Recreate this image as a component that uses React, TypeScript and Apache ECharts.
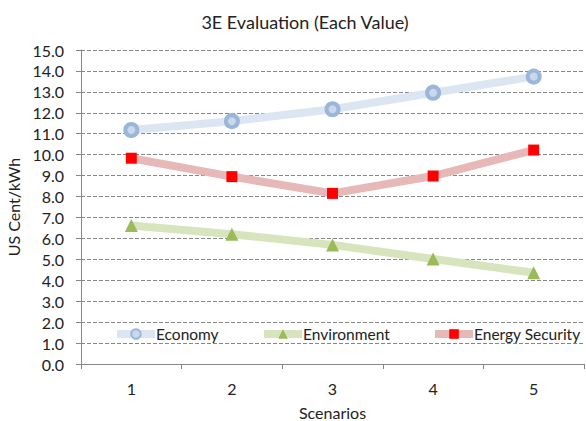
import React, { useEffect, useRef } from "react";
import * as echarts from "echarts";

const categories = ["1", "2", "3", "4", "5"];
const economy = [11.18, 11.6, 12.17, 12.96, 13.73];
const environment = [6.62, 6.2, 5.69, 5.02, 4.36];
const energySecurity = [9.83, 8.95, 8.15, 8.98, 10.22];
const seriesNames = ["Economy", "Environment", "Energy Security"];

const FONT = "Lato, 'Open Sans', sans-serif";
const legendLefts = [113, 260, 431];

export default function App() {
  const ref = useRef<HTMLDivElement>(null);
  useEffect(() => {
    if (!ref.current) return;
    const chart = echarts.init(ref.current, undefined, { renderer: "svg" });
    chart.setOption({
      animation: false,
      backgroundColor: "#ffffff",
      textStyle: { fontFamily: FONT },
      title: {
        text: "3E Evaluation (Each Value)",
        left: 300,
        textAlign: "center",
        top: 8,
        textStyle: { fontFamily: FONT, fontSize: 18, fontWeight: "normal", color: "#222" },
      },
      legend: seriesNames.map((name, i) => ({
        left: legendLefts[i],
        top: 326,
        padding: 0,
        itemWidth: 38,
        itemHeight: 12,
        lineStyle: { width: 8 },
        textStyle: { fontFamily: FONT, fontSize: 15.5, color: "#222", padding: [0, 0, 0, -4] },
        data: [name],
      })),
      grid: { left: 81, right: 2, top: 50, bottom: 57, containLabel: false, outerBoundsMode: "none" },
      xAxis: {
        type: "category",
        data: categories,
        boundaryGap: true,
        name: "Scenarios",
        nameLocation: "middle",
        nameGap: 40,
        nameTextStyle: { fontFamily: FONT, fontSize: 16, color: "#222" },
        axisLine: { lineStyle: { color: "#868686", width: 1 } },
        axisTick: { show: true, length: 5, lineStyle: { color: "#868686" } },
        axisLabel: { fontFamily: FONT, fontSize: 16, color: "#222", margin: 16 },
        splitLine: { show: false },
      },
      yAxis: {
        type: "value",
        min: 0,
        max: 15,
        interval: 1,
        name: "US Cent/kWh",
        nameLocation: "middle",
        nameGap: 54,
        nameRotate: 90,
        nameTextStyle: { fontFamily: FONT, fontSize: 16, color: "#222" },
        axisLine: { show: true, lineStyle: { color: "#868686", width: 1 } },
        axisTick: { show: true, length: 5, lineStyle: { color: "#868686" } },
        axisLabel: {
          fontFamily: FONT,
          fontSize: 16,
          color: "#222",
          margin: 17,
          formatter: (v: number) => v.toFixed(1),
        },
        splitLine: { show: true, lineStyle: { color: "#868686", type: [4, 2], width: 1 } },
      },
      series: [
        {
          name: seriesNames[0],
          type: "line",
          data: economy,
          symbol: "circle",
          symbolSize: 12,
          lineStyle: { color: "#dce6f2", width: 8 },
          itemStyle: { color: "#c9d8eb", borderColor: "#9ab6d9", borderWidth: 4 },
          z: 3,
        },
        {
          name: seriesNames[1],
          type: "line",
          data: environment,
          symbol: "triangle",
          symbolSize: 13,
          lineStyle: { color: "#d7e4bd", width: 8 },
          itemStyle: { color: "#9bbb59", borderColor: "#9bbb59", borderWidth: 0 },
          z: 3,
        },
        {
          name: seriesNames[2],
          type: "line",
          data: energySecurity,
          symbol: "rect",
          symbolSize: 11,
          lineStyle: { color: "#e6b9b8", width: 8 },
          itemStyle: { color: "#ff0000", borderWidth: 0 },
          z: 3,
        },
      ],
    });
    return () => chart.dispose();
  }, []);
  return <div ref={ref} style={{ width: 586, height: 421, position: "absolute", left: 0, top: 0 }} />;
}
